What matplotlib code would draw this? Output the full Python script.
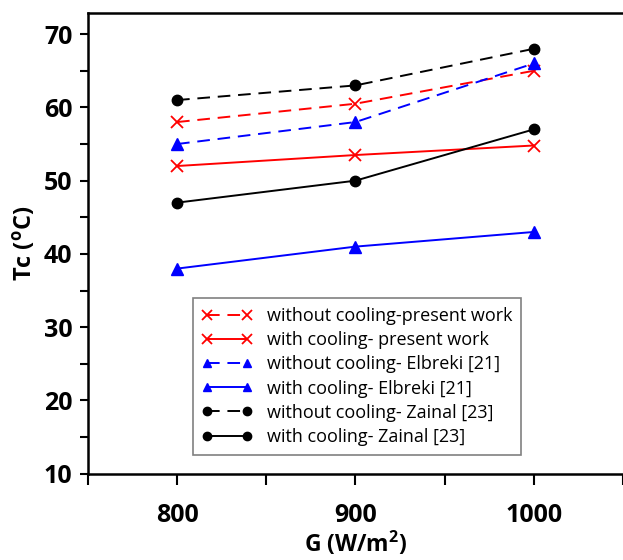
import numpy as np
from matplotlib import pyplot as plt

plt.rcParams['font.family'] = ['Open Sans', 'DejaVu Sans']
plt.rcParams['mathtext.fontset'] = 'custom'
plt.rcParams['mathtext.bf'] = 'Open Sans:bold'
plt.rcParams['mathtext.rm'] = 'Open Sans'

G = [800, 900, 1000]
present_no_cool = [58, 60.5, 65]
present_cool = [52, 53.5, 54.8]
elbreki_no_cool = [55, 58, 66]
elbreki_cool = [38, 41, 43]
zainal_no_cool = [61, 63, 68]
zainal_cool = [47, 50, 57]

fig = plt.figure(figsize=(6.23, 5.6), dpi=100)
ax = fig.add_axes([0.141, 0.154, 0.859, 0.823])

dash = (0, (6.5, 4))
ax.plot(G, present_no_cool, color='red', linestyle=dash, marker='x', markersize=9, mew=1.3, lw=1.4,
        label='without cooling-present work')
ax.plot(G, present_cool, color='red', linestyle='-', marker='x', markersize=9, mew=1.3, lw=1.4,
        label='with cooling- present work')
ax.plot(G, elbreki_no_cool, color='blue', linestyle=dash, marker='^', markersize=8, lw=1.4,
        label='without cooling- Elbreki [21]')
ax.plot(G, elbreki_cool, color='blue', linestyle='-', marker='^', markersize=8, lw=1.4,
        label='with cooling- Elbreki [21]')
ax.plot(G, zainal_no_cool, color='black', linestyle=dash, marker='o', markersize=7.5, lw=1.4,
        label='without cooling- Zainal [23]')
ax.plot(G, zainal_cool, color='black', linestyle='-', marker='o', markersize=7.5, lw=1.4,
        label='with cooling- Zainal [23]')

ax.set_xlim(750, 1050)
ax.set_ylim(10, 72.9)
ax.set_xticks([800, 900, 1000])
ax.set_xticks([750, 850, 950, 1050], minor=True)
ax.set_yticks([10, 20, 30, 40, 50, 60, 70])
ax.set_yticks([15, 25, 35, 45, 55, 65], minor=True)
ax.tick_params(which='both', direction='out', width=1.5, length=8, labelsize=18, pad=13)
ax.tick_params(axis='y', which='both', length=6, pad=5)
for lbl in ax.get_xticklabels() + ax.get_yticklabels():
    lbl.set_fontweight('bold')

for s in ['left', 'bottom', 'top']:
    ax.spines[s].set_linewidth(1.8)
ax.spines['right'].set_visible(False)

ax.set_xlabel('G (W/m$\\mathbf{^2}$)', fontsize=16.5, fontweight='bold', labelpad=1)
ax.set_ylabel('Tc ($\\mathbf{^o}$C)', fontsize=17, fontweight='bold', labelpad=4)

leg = ax.legend(loc='lower left', bbox_to_anchor=(0.196, 0.041), numpoints=2, fontsize=13,
                handlelength=2.8, labelspacing=0.34, fancybox=False, edgecolor='gray',
                framealpha=1, borderpad=0.5, handletextpad=0.8, markerscale=0.8,
                borderaxespad=0)
leg.get_frame().set_linewidth(1.2)

plt.savefig('out.png', dpi=100)
